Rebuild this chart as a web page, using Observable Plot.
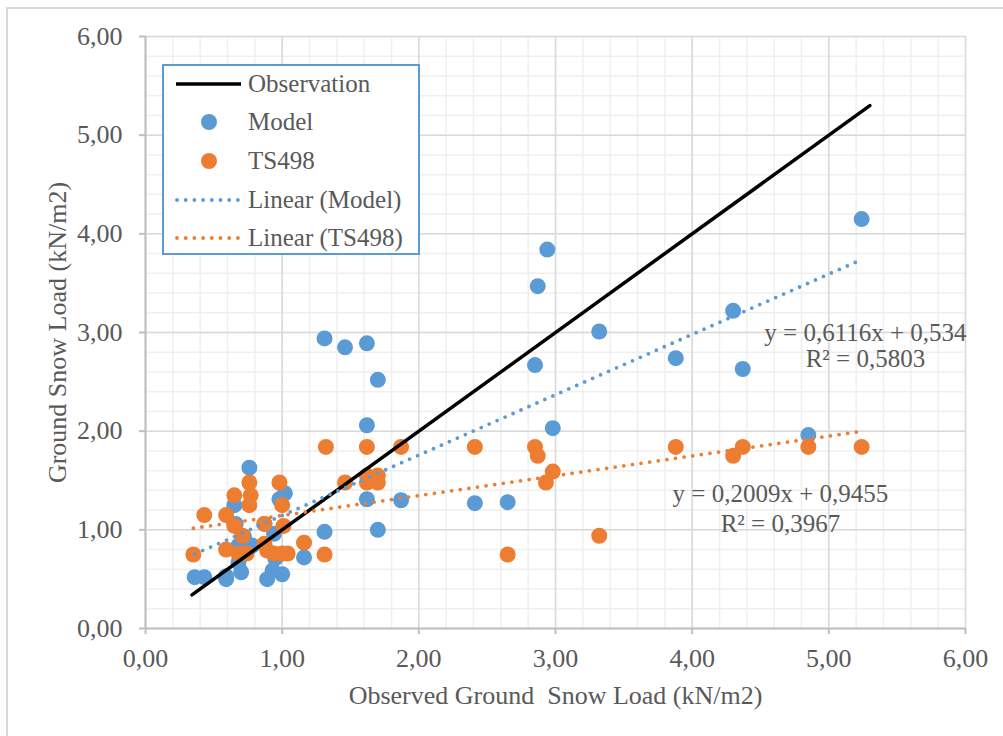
<!DOCTYPE html>
<html>
<head>
<meta charset="utf-8">
<script src="https://cdn.jsdelivr.net/npm/d3@7"></script>
<script src="https://cdn.jsdelivr.net/npm/@observablehq/plot@0.6"></script>
<style>
  html, body { margin: 0; padding: 0; background: #fff; overflow: hidden; }
  #wrap { position: relative; width: 1003px; height: 736px; overflow: hidden; font-family: "Liberation Serif", "Times New Roman", serif; color: #595959; }
  #frame { position: absolute; left: 6px; top: 7px; width: 1200px; height: 900px; border: 2px solid #d9d9d9; box-sizing: border-box; }
  #chart { position: absolute; left: 0; top: 0; }
  #legend { position: absolute; left: 162px; top: 64px; width: 258px; height: 191px; border: 2px solid #5b9bd5; background: #fff; box-sizing: border-box; }
  .row { position: absolute; left: 0; height: 38px; display: flex; align-items: center; font-size: 25px; line-height: 38px; white-space: nowrap; }
  .row svg { width: 70px; height: 38px; margin-left: 10px; margin-right: 4px; flex: none; }
</style>
</head>
<body>
<div id="wrap">
  <div id="frame"></div>
  <div id="chart"></div>
  <div id="legend"></div>
</div>
<script>
// ---- data ----
const modelX = [0.36, 0.43, 0.59, 0.59, 0.65, 0.66, 0.68, 0.68, 0.70, 0.72, 0.76, 0.78, 0.87, 0.89, 0.93, 0.94, 0.95, 0.98, 1.00, 1.02, 1.16, 1.31, 1.31, 1.46, 1.62, 1.62, 1.62, 1.70, 1.70, 1.87, 2.41, 2.65, 2.85, 2.87, 2.94, 2.98, 3.32, 3.88, 4.30, 4.37, 4.85, 5.24];
const modelY = [0.52, 0.52, 0.50, 0.53, 1.25, 1.06, 0.84, 0.67, 0.57, 0.93, 1.63, 0.84, 1.06, 0.50, 0.59, 0.96, 0.71, 1.31, 0.55, 1.37, 0.72, 0.98, 2.94, 2.85, 2.89, 2.06, 1.31, 2.52, 1.00, 1.30, 1.27, 1.28, 2.67, 3.47, 3.84, 2.03, 3.01, 2.74, 3.22, 2.63, 1.96, 4.15];
const tsX = [0.35, 0.43, 0.59, 0.59, 0.65, 0.65, 0.68, 0.71, 0.74, 0.76, 0.77, 0.76, 0.87, 0.87, 0.89, 0.94, 0.98, 1.00, 1.00, 1.01, 1.04, 1.16, 1.31, 1.32, 1.46, 1.62, 1.62, 1.62, 1.70, 1.70, 1.87, 2.41, 2.65, 2.85, 2.87, 2.93, 2.98, 3.32, 3.88, 4.30, 4.37, 4.85, 5.24];
const tsY = [0.75, 1.15, 1.15, 0.80, 1.04, 1.35, 0.76, 0.94, 0.76, 1.48, 1.35, 1.25, 1.06, 0.86, 0.79, 0.76, 1.48, 1.25, 0.76, 1.04, 0.76, 0.87, 0.75, 1.84, 1.48, 1.84, 1.55, 1.48, 1.55, 1.48, 1.84, 1.84, 0.75, 1.84, 1.75, 1.48, 1.59, 0.94, 1.84, 1.75, 1.84, 1.84, 1.84];
const observation = [0.34, 5.30];              // y = x line ends
const trendModel = {slope: 0.6116, intercept: 0.534};
const trendTS = {slope: 0.2009, intercept: 0.9455};
const seriesNames = ["Observation", "Model", "TS498", "Linear (Model)", "Linear (TS498)"];
const eqModel = ["y = 0,6116x + 0,534", "R² = 0,5803"];
const eqTS = ["y = 0,2009x + 0,9455", "R² = 0,3967"];
const majorTicks = [0, 1, 2, 3, 4, 5, 6];
const xTitle = "Observed Ground  Snow Load (kN/m2)";
const yTitle = "Ground Snow Load (kN/m2)";

// ---- styles ----
const BLUE = "#5b9bd5", ORANGE = "#ed7d31", TXT = "#595959";
const FONT = "'Liberation Serif', 'Times New Roman', serif";
const fmt = d => d.toFixed(2).replace(".", ",");
const minorTicks = d3.range(0, 31).map(i => i / 5);

const model = modelX.map((x, i) => ({x, y: modelY[i]}));
const ts = tsX.map((x, i) => ({x, y: tsY[i]}));
const obs = observation.map(v => ({x: v, y: v}));
const trendPts = (xs, t) => d3.extent(xs).map(x => ({x, y: t.slope * x + t.intercept}));

const chart = Plot.plot({
  width: 1003,
  height: 736,
  marginLeft: 145,
  marginRight: 38,
  marginTop: 36,
  marginBottom: 108,
  style: {fontFamily: FONT, fontSize: "26px", color: TXT, background: "transparent"},
  x: {domain: [0, 6], axis: null},
  y: {domain: [0, 6], axis: null},
  marks: [
    Plot.ruleX(minorTicks, {stroke: "#efefef", strokeWidth: 1.5}),
    Plot.ruleY(minorTicks, {stroke: "#efefef", strokeWidth: 1.5}),
    Plot.ruleX(majorTicks, {stroke: "#d9d9d9", strokeWidth: 1.5}),
    Plot.ruleY(majorTicks, {stroke: "#d9d9d9", strokeWidth: 1.5}),
    Plot.ruleX([0], {stroke: "#bfbfbf", strokeWidth: 2}),
    Plot.ruleY([0], {stroke: "#bfbfbf", strokeWidth: 2}),
    Plot.axisX({ticks: majorTicks, tickFormat: fmt, tickSize: 6, tickPadding: 14, stroke: "#bfbfbf", strokeWidth: 2, fill: TXT, fontSize: 26, label: null}),
    Plot.axisY({ticks: majorTicks, tickFormat: fmt, tickSize: 6, tickPadding: 17, stroke: "#bfbfbf", strokeWidth: 2, fill: TXT, fontSize: 26, label: null}),
    // series
    Plot.dot(model, {x: "x", y: "y", r: 8, fill: BLUE}),
    Plot.dot(ts, {x: "x", y: "y", r: 8, fill: ORANGE}),
    Plot.line(obs, {x: "x", y: "y", stroke: "#000", strokeWidth: 3.5}),
    Plot.line(trendPts(modelX, trendModel), {x: "x", y: "y", stroke: BLUE, strokeWidth: 3.8, strokeDasharray: "0 8.7", strokeLinecap: "round"}),
    Plot.line(trendPts(tsX, trendTS), {x: "x", y: "y", stroke: ORANGE, strokeWidth: 3.8, strokeDasharray: "0 8.7", strokeLinecap: "round"}),
    // trendline equations
    Plot.text([eqModel[0]], {x: () => 5.268, y: () => 3.0, text: d => d, fill: TXT, fontSize: 25, textAnchor: "middle"}),
    Plot.text([eqModel[1]], {x: () => 5.268, y: () => 2.736, text: d => d, fill: TXT, fontSize: 25, textAnchor: "middle"}),
    Plot.text([eqTS[0]], {x: () => 4.646, y: () => 1.368, text: d => d, fill: TXT, fontSize: 25, textAnchor: "middle"}),
    Plot.text([eqTS[1]], {x: () => 4.646, y: () => 1.064, text: d => d, fill: TXT, fontSize: 25, textAnchor: "middle"}),
    // axis titles
    Plot.text([xTitle], {frameAnchor: "bottom", text: d => d, dy: 67, lineAnchor: "middle", fill: TXT, fontSize: 26}),
    Plot.text([yTitle], {frameAnchor: "left", text: d => d, dx: -88, rotate: -90, lineAnchor: "middle", textAnchor: "middle", fill: TXT, fontSize: 26})
  ]
});
document.getElementById("chart").appendChild(chart);

// ---- legend (HTML) ----
const legend = document.getElementById("legend");
const symbols = [
  `<line x1="2" y1="19" x2="67" y2="19" stroke="#000" stroke-width="3.5"/>`,
  `<circle cx="35" cy="19" r="8" fill="${BLUE}"/>`,
  `<circle cx="35" cy="19" r="8" fill="${ORANGE}"/>`,
  `<line x1="3" y1="19" x2="67" y2="19" stroke="${BLUE}" stroke-width="3.8" stroke-dasharray="0 8.7" stroke-linecap="round"/>`,
  `<line x1="3" y1="19" x2="67" y2="19" stroke="${ORANGE}" stroke-width="3.8" stroke-dasharray="0 8.7" stroke-linecap="round"/>`
];
seriesNames.forEach((name, i) => {
  const row = document.createElement("div");
  row.className = "row";
  row.style.top = (i * 38.7 - 1.5) + "px";
  row.innerHTML = `<svg viewBox="0 0 70 38">${symbols[i]}</svg><span>${name}</span>`;
  legend.appendChild(row);
});
</script>
</body>
</html>
